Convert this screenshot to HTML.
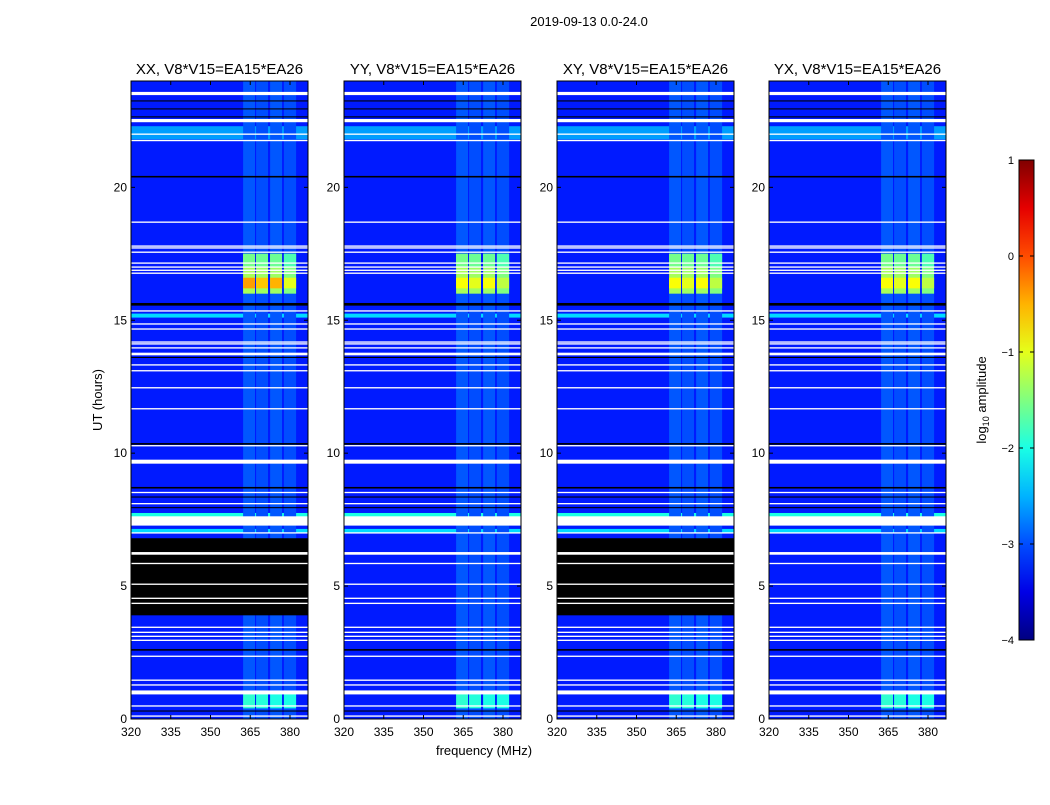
<!DOCTYPE html>
<html><head><meta charset="utf-8"><style>
body{margin:0;background:#fff;font-family:"Liberation Sans",sans-serif}
svg text{font-family:"Liberation Sans",sans-serif}
</style></head><body>
<svg id="fig" width="1050" height="800" xmlns="http://www.w3.org/2000/svg">
<text x="589" y="26" font-size="13" text-anchor="middle">2019-09-13 0.0-24.0</text>
<text x="484" y="755" font-size="13" text-anchor="middle">frequency (MHz)</text>
<text transform="translate(102,400) rotate(-90)" font-size="13" text-anchor="middle">UT (hours)</text>
<g id="panels"></g>
<g id="cbar"></g>
</svg>
<script>
const panelTitles=["XX, V8*V15=EA15*EA26","YY, V8*V15=EA15*EA26","XY, V8*V15=EA15*EA26","YX, V8*V15=EA15*EA26"];
const panelLeft=[131,344,557,769];
const freqTicks=[320,335,350,365,380];
const timeTicks=[0,5,10,15,20];
const cbarTicks=[1,0,-1,-2,-3,-4];
const backgroundLevel=-3.25;
const rfiChannels=[[362.3,366.8],[367.2,371.7],[372.5,377.0],[377.7,382.3]];
const rfiFaintLevel=[-2.95,-3.0,-2.95,-3.0];
const rfiStrongLevel=[-1.3,-1.35,-1.35,-1.5];
const rfiUpperLevel=[-1.55,-1.6,-1.6,-1.75];
const rfiLowLevel=[-1.9,-1.95,-2.0,-2.0];
const rfiPeakLevelXX=[-0.4,-0.6,-0.5,-1.0];
const rfiPeakLevelOther=[-0.9,-1.0,-0.9,-1.2];
const cyanRows=[[21.8,22.3,-2.6],[15.1,15.25,-2.3],[7.6,7.75,-2.0],[7.0,7.15,-2.3]];
const whiteRows=[[23.53,0.12],[22.51,0.12],[22.0,0.05],[21.76,0.05],[18.69,0.05],[17.79,0.05],[17.72,0.05],[17.56,0.05],[17.15,0.05],[17.0,0.05],[16.88,0.05],[16.77,0.05],[15.35,0.05],[14.86,0.05],[14.67,0.05],[14.18,0.05],[14.11,0.05],[13.96,0.05],[13.73,0.1],[13.32,0.05],[13.1,0.05],[12.46,0.05],[11.67,0.05],[10.28,0.05],[9.68,0.15],[8.52,0.05],[8.1,0.05],[7.45,0.35],[7.0,0.05],[6.23,0.1],[5.85,0.05],[5.07,0.05],[4.54,0.05],[4.35,0.05],[3.45,0.05],[3.26,0.05],[3.11,0.05],[2.96,0.05],[2.36,0.05],[1.46,0.05],[1.28,0.05],[1.0,0.15],[0.49,0.05],[0.11,0.05]];
const blackRows=[[23.25,0.04],[22.95,0.04],[22.65,0.04],[20.4,0.06],[15.6,0.1],[13.6,0.04],[10.35,0.06],[8.7,0.06],[8.35,0.04],[7.95,0.04],[2.6,0.06],[0.3,0.04]];
const blackBandPanels=[true,false,true,false];
const blackBand=[3.9,6.8];

function jet(v){let t=(v+4)/5;t=Math.max(0,Math.min(1,t));
 const f=x=>Math.round(255*Math.max(0,Math.min(1,x)));
 return `rgb(${f(1.5-Math.abs(4*t-3))},${f(1.5-Math.abs(4*t-2))},${f(1.5-Math.abs(4*t-1))})`;}
const NS="http://www.w3.org/2000/svg";
function mk(tag,attrs,parent){const e=document.createElementNS(NS,tag);for(const k in attrs)e.setAttribute(k,attrs[k]);parent.appendChild(e);return e;}
const top0=81,bot0=719,W=177;
const yScale=h=>bot0-(h/24)*(bot0-top0);
const xScale=(p,f)=>panelLeft[p]+(f-320)*2.65;
const root=document.getElementById('panels');
panelTitles.forEach((title,p)=>{
 const g=mk('g',{},root);
 
 
 const x0=panelLeft[p];
 const cp=mk('clipPath',{id:'c'+p},g);mk('rect',{x:x0,y:top0,width:W,height:bot0-top0},cp);
 const hm=mk('g',{'clip-path':`url(#c${p})`},g);
 
 
 mk('rect',{x:x0,y:top0,width:W,height:bot0-top0,fill:jet(backgroundLevel)},hm);
 cyanRows.forEach(r=>mk('rect',{x:x0,y:yScale(r[1]),width:W,height:yScale(r[0])-yScale(r[1]),fill:jet(r[2])},hm));
 rfiChannels.forEach((c,i)=>{
  const xa=xScale(p,c[0]),w=xScale(p,c[1])-xa;
  const blk=(t0,t1,l)=>{const e=mk('rect',{x:xa,y:yScale(t1),width:w,height:yScale(t0)-yScale(t1),fill:jet(l)},hm);};
  blk(0,24,rfiFaintLevel[i]);
  blk(16.0,17.5,rfiStrongLevel[i]);
  blk(17.0,17.5,rfiUpperLevel[i]);
  blk(16.2,16.6,p==0?rfiPeakLevelXX[i]:rfiPeakLevelOther[i]);
  blk(0.4,0.95,rfiLowLevel[i]);
 });
 if(blackBandPanels[p])mk('rect',{x:x0,y:yScale(blackBand[1]),width:W,height:yScale(blackBand[0])-yScale(blackBand[1]),fill:'#000'},hm);
 blackRows.forEach(r=>mk('rect',{x:x0,y:yScale(r[0]+r[1]/2),width:W,height:Math.max(1,r[1]*26.6),fill:'#000'},hm));
 whiteRows.forEach(r=>mk('rect',{x:x0,y:yScale(r[0]+r[1]/2),width:W,height:Math.max(1.3,r[1]*26.6),fill:'#fff'},hm));
 mk('rect',{x:x0,y:top0,width:W,height:bot0-top0,fill:'none',stroke:'#000','stroke-width':1},g);
 const t=mk('text',{x:x0+W/2,y:74,'font-size':15,'text-anchor':'middle'},g);t.textContent=title;
 
 freqTicks.forEach(f=>{const x=xScale(p,f);
  mk('line',{x1:x,x2:x,y1:bot0,y2:bot0-4,stroke:'#000'},g);mk('line',{x1:x,x2:x,y1:top0,y2:top0+4,stroke:'#000'},g);
  const l=mk('text',{x:x,y:736,'font-size':12,'text-anchor':'middle'},g);l.textContent=f;
  });
 timeTicks.forEach(h=>{const y=yScale(h);
  mk('line',{x1:x0,x2:x0+4,y1:y,y2:y,stroke:'#000'},g);mk('line',{x1:x0+W,x2:x0+W-4,y1:y,y2:y,stroke:'#000'},g);
  const l=mk('text',{x:x0-4,y:y+4,'font-size':12,'text-anchor':'end'},g);l.textContent=h;
  });
});
const cb=document.getElementById('cbar');


const cTop=160,cBot=640,cx=1019,cw=15;
const cScale=v=>cBot-(v+4)/5*(cBot-cTop);
const defs=mk('defs',{},cb);const lg=mk('linearGradient',{id:'jg',x1:0,y1:1,x2:0,y2:0},defs);
for(let i=0;i<=10;i++){mk('stop',{offset:i/10,'stop-color':jet(-4+i/2)},lg);}
mk('rect',{x:cx,y:cTop,width:cw,height:cBot-cTop,fill:'url(#jg)',stroke:'#000'},cb);
cbarTicks.forEach(v=>{const y=cScale(v);
 mk('line',{x1:cx,x2:cx+4,y1:y,y2:y,stroke:'#000'},cb);mk('line',{x1:cx+cw,x2:cx+cw-4,y1:y,y2:y,stroke:'#000'},cb);
 const l=mk('text',{x:cx-5,y:y+4,'font-size':11,'text-anchor':'end'},cb);l.textContent=v<0?'\u2212'+(-v):v;
 });
const cl=mk('text',{transform:'translate(986,400) rotate(-90)','font-size':13,'text-anchor':'middle'},cb);

cl.innerHTML='log<tspan font-size="9" dy="3">10</tspan><tspan dy="-3"> amplitude</tspan>';
</script>
</body></html>
